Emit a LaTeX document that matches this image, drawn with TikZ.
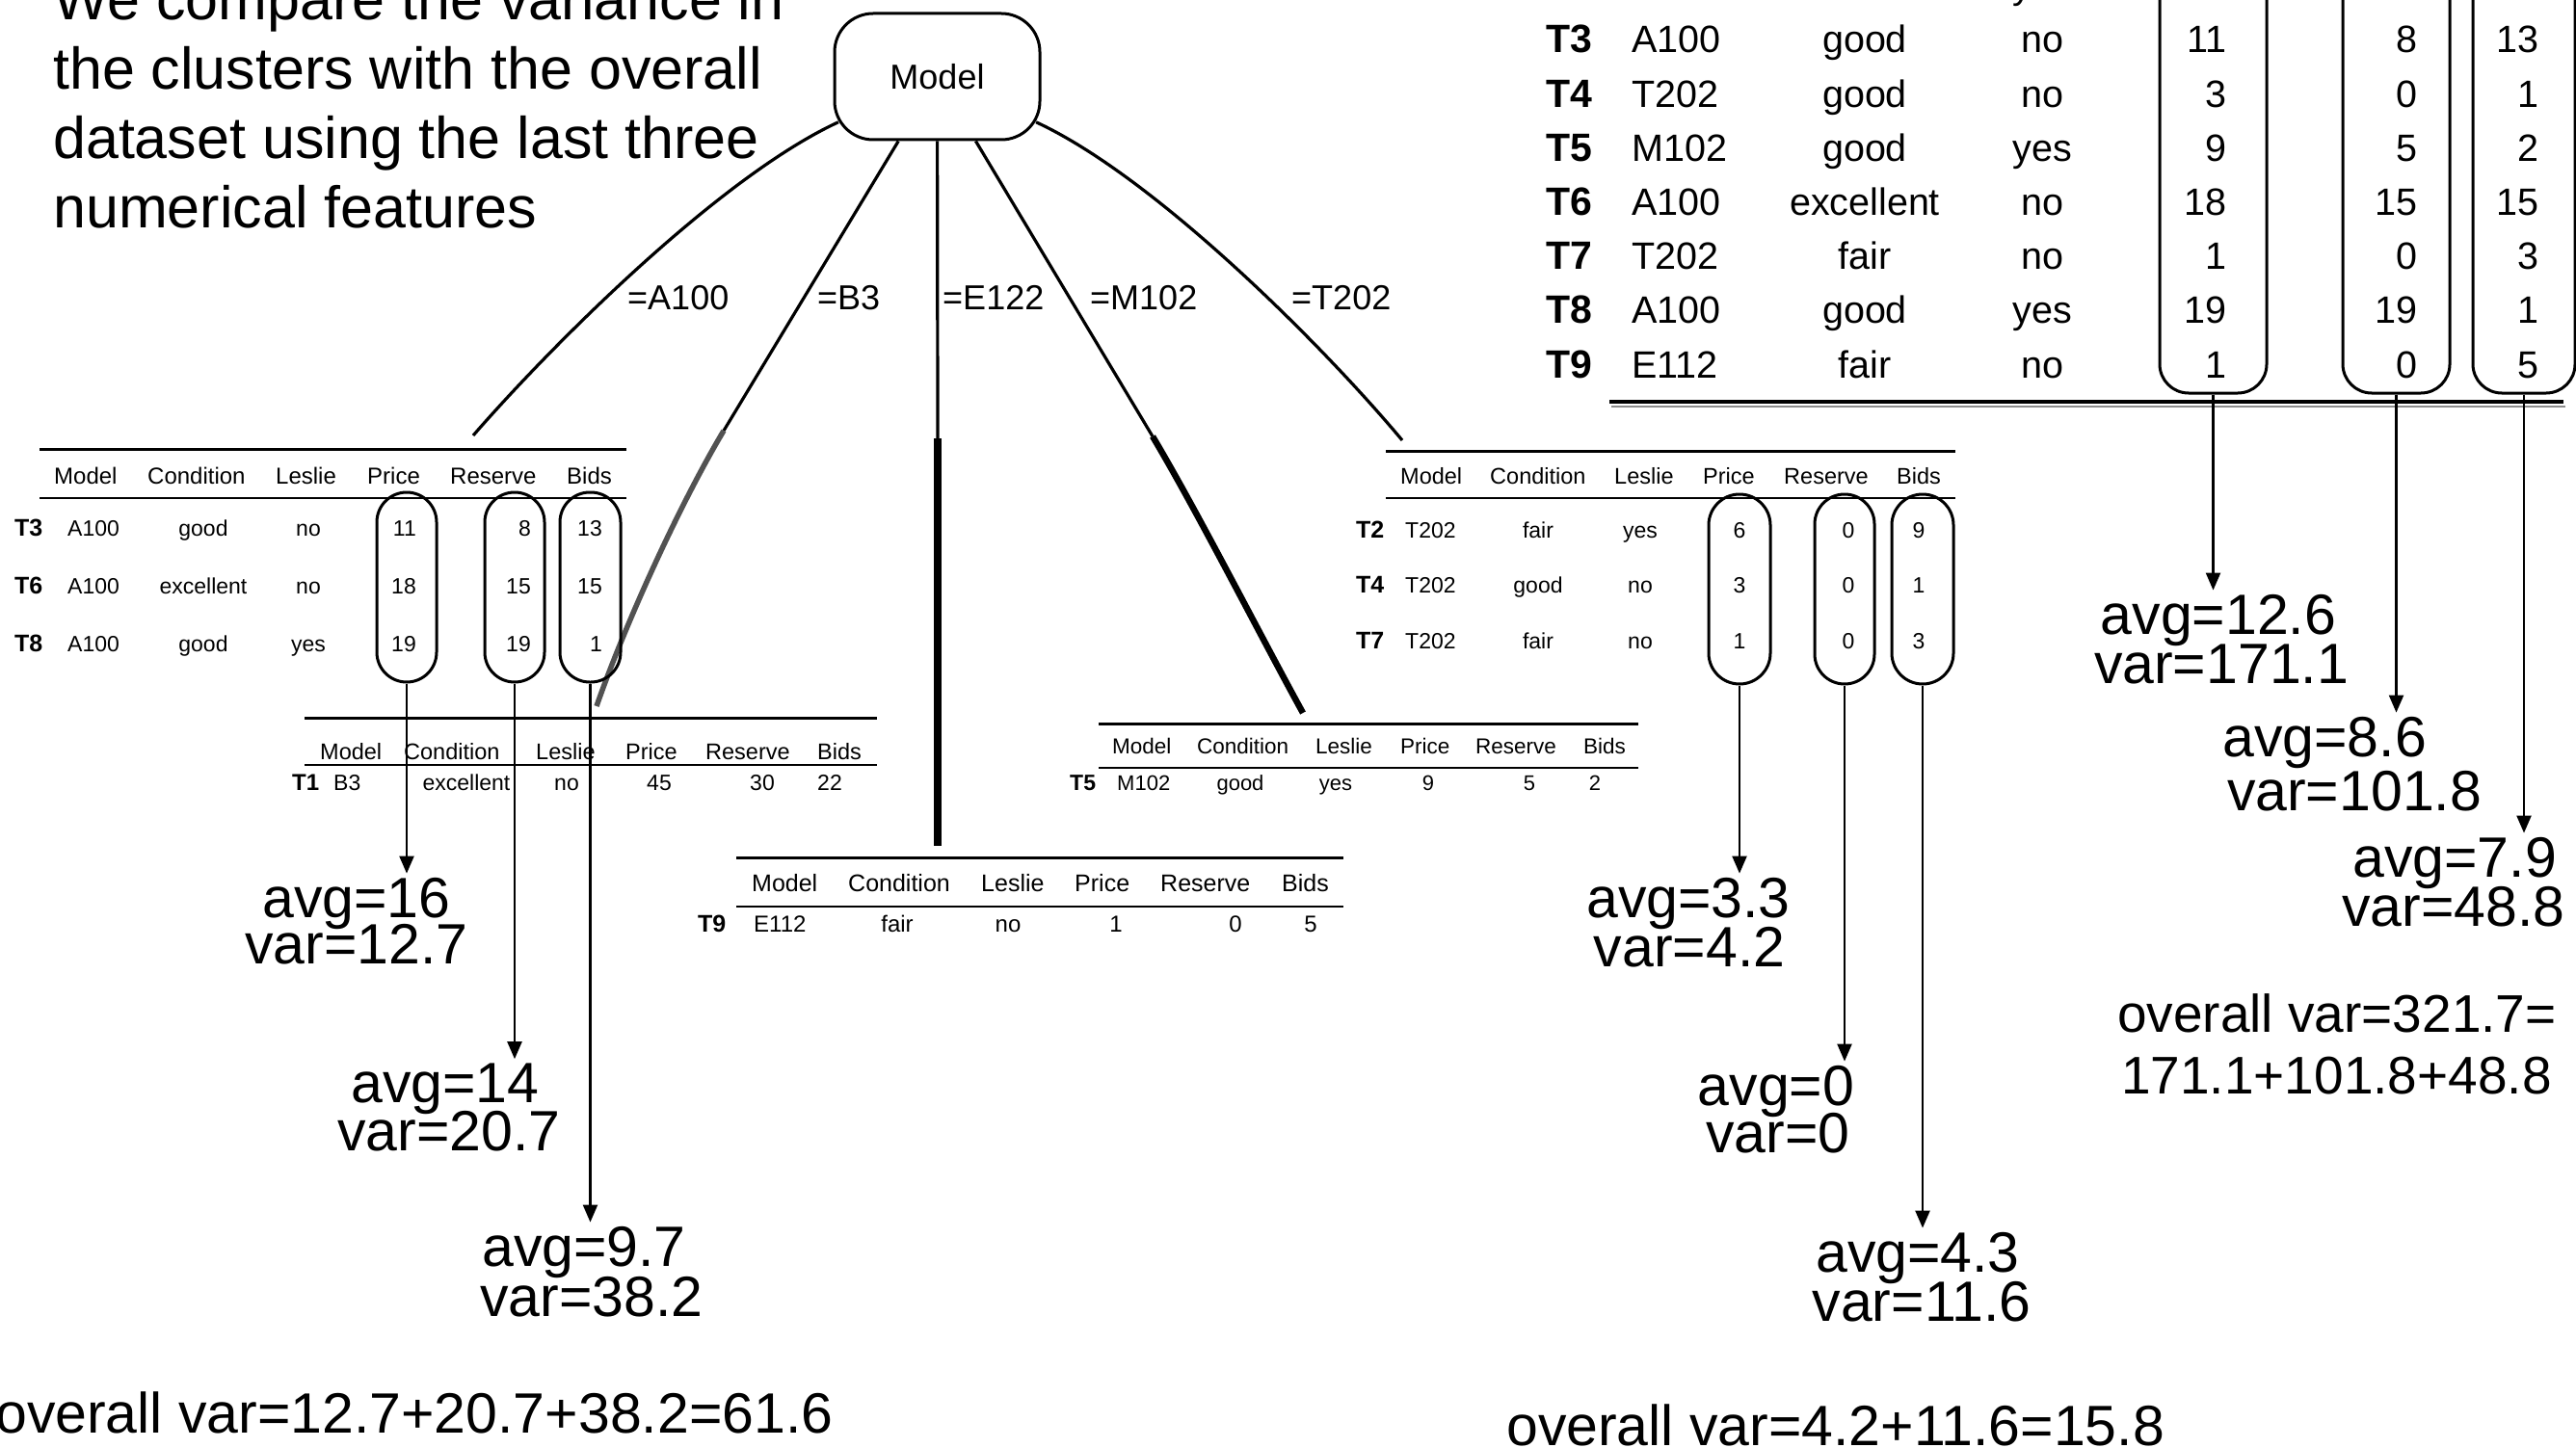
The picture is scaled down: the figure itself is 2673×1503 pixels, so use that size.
\documentclass[tikz,border=0pt]{standalone}
\usepackage{fontspec}
\setmainfont{Liberation Sans}
\usetikzlibrary{arrows.meta,calc}
\begin{document}
\begin{tikzpicture}[x=1pt,y=-1pt,
  txt/.style={inner sep=0pt, font=\fontsize{#1}{#1}\selectfont},
  txtb/.style={inner sep=0pt, font=\fontsize{#1}{#1}\selectfont\bfseries},
  biglab/.style={inner xsep=0pt, inner ysep=4pt, font=\fontsize{59}{59}\selectfont, anchor=base},
  toprule/.style={line width=3pt},
  midrule/.style={line width=2.2pt},
  stad/.style={draw, line width=3pt, inner sep=0pt},
  arr/.style={line width=2.2pt, -{Triangle[length=18pt,width=15pt]}},
  edge/.style={line width=3.2pt},
  thickblack/.style={line width=7.5pt},
  thickblackb/.style={line width=6.5pt},
  thickgrey/.style={line width=5.5pt, color=black!68},
  elab/.style={inner sep=0pt, font=\fontsize{36}{36}\selectfont, anchor=base west}
]
\fill[white] (0,0) rectangle (2673,1503);
\useasboundingbox (0,0) rectangle (2673,1503);
\clip (0,0) rectangle (2673,1503);

% ---------- intro text
\foreach \t/\y [count=\i] in {We compare the variance in/21, the clusters with the overall/93, dataset using the last three/165, numerical features/237}
  \node[txt=61, anchor=base west] (intro\i) at (55,\y) {\t};

% ---------- root node
\node[draw, line width=3pt, rounded corners=40pt, minimum width=213, minimum height=131,
      inner sep=0pt, font=\fontsize{36}{36}\selectfont] (model) at (972.5,79.5) {Model};

% ---------- edges
\coordinate (eA) at (491,452);
\coordinate (eB1) at (751,447);
\coordinate (eB2) at (619,733);
\coordinate (eE1) at (973,455);
\coordinate (eE2) at (973,878);
\coordinate (eM1) at (1196,453);
\coordinate (eM2) at (1352,740);
\coordinate (eT) at (1455,457);

\draw[edge, shorten <=-6pt] (model) .. controls (746,184) and (571,360) .. (eA);
\draw[edge] (model) -- (eB1);
\draw[thickgrey] (eB1) .. controls (705,524) and (649,647) .. (eB2);
\draw[edge] (model) -- (eE1);
\draw[thickblack] (eE1) -- (eE2);
\draw[edge] (model) -- (eM1);
\draw[thickblackb] (eM1) .. controls (1242,530) and (1309,662) .. (eM2);
\draw[edge, shorten <=-6pt] (model) .. controls (1199,184) and (1374,360) .. (eT);

\node[elab] (lbA) at (651,322) {=A100};
\node[elab] (lbB) at (848,322) {=B3};
\node[elab] (lbE) at (978,322) {=E122};
\node[elab] (lbM) at (1131,322) {=M102};
\node[elab] (lbT) at (1340,322) {=T202};

% ---------- A100 table
\draw[toprule] (41,466) -- (650,466);
\draw[midrule] (41,517) -- (650,517);
\foreach \t/\x [count=\i] in {Model/56, Condition/153, Leslie/286, Price/381, Reserve/467, Bids/588}
  \node[txt=24, anchor=base west] (ah\i) at (\x,502) {\t};
\foreach \r/\m/\c/\l/\p/\s/\b/\y [count=\i] in {T3/A100/good/no/11/8/13/556, T6/A100/excellent/no/18/15/15/616, T8/A100/good/yes/19/19/1/676}{
  \node[txtb=25, anchor=base west] (ar\i) at (15,\y) {\r};
  \node[txt=23, anchor=base west] (am\i) at (70,\y) {\m};
  \node[txt=23, anchor=base] (ac\i) at (211,\y) {\c};
  \node[txt=23, anchor=base] (al\i) at (320,\y) {\l};
  \node[txt=23, anchor=base east] (ap\i) at (432,\y) {\p};
  \node[txt=23, anchor=base east] (as\i) at (551,\y) {\s};
  \node[txt=23, anchor=base east] (ab\i) at (625,\y) {\b};
}
\node[stad, minimum width=62, minimum height=197, rounded corners=31pt] (sA1) at (422,609.5) {};
\node[stad, minimum width=62, minimum height=197, rounded corners=31pt] (sA2) at (534,609.5) {};
\node[stad, minimum width=63, minimum height=197, rounded corners=31pt] (sA3) at (612.5,609.5) {};

% ---------- B3 table
\draw[toprule] (316,745) -- (910,745);
\draw[midrule] (316,794) -- (910,794);
\foreach \t/\x [count=\i] in {Model/332, Condition/419, Leslie/556, Price/649, Reserve/732, Bids/848}
  \node[txt=23.5, anchor=base west] (bh\i) at (\x,788) {\t};
\node[txtb=24, anchor=base west] (br1) at (303,820) {T1};
\node[txt=23, anchor=base west] (bm1) at (346,820) {B3};
\node[txt=23, anchor=base] (bc1) at (484,820) {excellent};
\node[txt=23, anchor=base] (bl1) at (588,820) {no};
\node[txt=23, anchor=base] (bp1) at (684,820) {45};
\node[txt=23, anchor=base] (bs1) at (791,820) {30};
\node[txt=23, anchor=base] (bb1) at (861,820) {22};

% ---------- E122 table
\draw[toprule] (764,890) -- (1394,890);
\draw[midrule] (764,941) -- (1394,941);
\foreach \t/\x [count=\i] in {Model/780, Condition/880, Leslie/1018, Price/1115, Reserve/1204, Bids/1330}
  \node[txt=25, anchor=base west] (eh\i) at (\x,925) {\t};
\node[txtb=25, anchor=base west] (er1) at (724,967) {T9};
\node[txt=24, anchor=base west] (em1) at (782,967) {E112};
\node[txt=24, anchor=base] (ec1) at (931,967) {fair};
\node[txt=24, anchor=base] (el1) at (1046,967) {no};
\node[txt=24, anchor=base] (ep1) at (1158,967) {1};
\node[txt=24, anchor=base] (es1) at (1282,967) {0};
\node[txt=24, anchor=base] (eb1) at (1360,967) {5};

% ---------- M102 table
\draw[toprule] (1140,751) -- (1700,751);
\draw[midrule] (1140,797) -- (1700,797);
\foreach \t/\x [count=\i] in {Model/1154, Condition/1242, Leslie/1365, Price/1453, Reserve/1531, Bids/1643}
  \node[txt=22.5, anchor=base west] (mh\i) at (\x,782) {\t};
\node[txtb=23, anchor=base west] (mr1) at (1110,820) {T5};
\node[txt=22, anchor=base west] (mm1) at (1159,820) {M102};
\node[txt=22, anchor=base] (mc1) at (1287,820) {good};
\node[txt=22, anchor=base] (ml1) at (1386,820) {yes};
\node[txt=22, anchor=base] (mp1) at (1482,820) {9};
\node[txt=22, anchor=base] (ms1) at (1587,820) {5};
\node[txt=22, anchor=base] (mb1) at (1655,820) {2};

% ---------- T202 table
\draw[toprule] (1438,468) -- (2029,468);
\draw[midrule] (1438,517) -- (2029,517);
\foreach \t/\x [count=\i] in {Model/1453, Condition/1546, Leslie/1675, Price/1767, Reserve/1851, Bids/1968}
  \node[txt=23.5, anchor=base west] (dh\i) at (\x,502) {\t};
\foreach \r/\m/\c/\l/\p/\s/\b/\y [count=\i] in {T2/T202/fair/yes/6/0/9/558, T4/T202/good/no/3/0/1/615, T7/T202/fair/no/1/0/3/673}{
  \node[txtb=25, anchor=base west] (dr\i) at (1407,\y) {\r};
  \node[txt=23, anchor=base west] (dm\i) at (1458,\y) {\m};
  \node[txt=23, anchor=base] (dc\i) at (1596,\y) {\c};
  \node[txt=23, anchor=base] (dl\i) at (1702,\y) {\l};
  \node[txt=23, anchor=base] (dp\i) at (1805,\y) {\p};
  \node[txt=23, anchor=base] (ds\i) at (1918,\y) {\s};
  \node[txt=23, anchor=base] (db\i) at (1991,\y) {\b};
}
\node[stad, minimum width=64, minimum height=197, rounded corners=32pt] (sD1) at (1805,611.5) {};
\node[stad, minimum width=62, minimum height=197, rounded corners=31pt] (sD2) at (1914,611.5) {};
\node[stad, minimum width=64, minimum height=197, rounded corners=32pt] (sD3) at (1995,611.5) {};

% ---------- full table (top right)
\foreach \r/\m/\c/\l/\p/\s/\b/\y [count=\i] in {T2/T202/fair/yes/6/0/9/-1, T3/A100/good/no/11/8/13/55, T4/T202/good/no/3/0/1/112, T5/M102/good/yes/9/5/2/168, T6/A100/excellent/no/18/15/15/224, T7/T202/fair/no/1/0/3/280, T8/A100/good/yes/19/19/1/336, T9/E112/fair/no/1/0/5/392}{
  \node[txtb=41, anchor=base west] (gr\i) at (1604,\y) {\r};
  \node[txt=39.5, anchor=base west] (gm\i) at (1693,\y) {\m};
  \node[txt=39.5, anchor=base] (gc\i) at (1935,\y) {\c};
  \node[txt=39.5, anchor=base] (gl\i) at (2119,\y) {\l};
  \node[txt=39.5, anchor=base east] (gp\i) at (2311,\y) {\p};
  \node[txt=39.5, anchor=base east] (gs\i) at (2509,\y) {\s};
  \node[txt=39.5, anchor=base east] (gb\i) at (2635,\y) {\b};
}
\node[stad, minimum width=111, minimum height=488, rounded corners=30pt] (sG1) at (2296.5,164) {};
\node[stad, minimum width=111, minimum height=488, rounded corners=30pt] (sG2) at (2486.5,164) {};
\node[stad, minimum width=106, minimum height=488, rounded corners=30pt] (sG3) at (2619,164) {};
\draw[line width=2.5pt, black!45] (1672,422) -- (2662,422);
\draw[line width=3.5pt] (1670,417) -- (2660,417);

% ---------- result labels
\node[biglab] (aA1) at (370,952) {avg=16};
\node[biglab] (vA1) at (370,1000) {var=12.7};
\node[biglab] (aA2) at (462,1144) {avg=14};
\node[biglab] (vA2) at (466,1194) {var=20.7};
\node[biglab] (aA3) at (606,1314) {avg=9.7};
\node[biglab] (vA3) at (614,1366) {var=38.2};

\node[biglab] (aD1) at (1752,952) {avg=3.3};
\node[biglab] (vD1) at (1753,1003) {var=4.2};
\node[biglab] (aD2) at (1843,1147) {avg=0};
\node[biglab] (vD2) at (1845,1196) {var=0};
\node[biglab] (aD3) at (1990,1320) {avg=4.3};
\node[biglab] (vD3) at (1994,1371) {var=11.6};

\node[biglab] (aG1) at (2302,658) {avg=12.6};
\node[biglab] (vG1) at (2305,709) {var=171.1};
\node[biglab] (aG2) at (2412,785) {avg=8.6};
\node[biglab] (vG2) at (2443,841) {var=101.8};
\node[biglab] (aG3) at (2547,910) {avg=7.9};
\node[biglab] (vG3) at (2546,961) {var=48.8};

\node[txt=55, anchor=base west] (ovG1) at (2197,1071) {overall var=321.7=};
\node[txt=55, anchor=base west] (ovG2) at (2201,1135) {171.1+101.8+48.8};
\node[txt=59, anchor=base west] (ovA) at (-5,1487) {overall var=12.7+20.7+38.2=61.6};
\node[txt=59, anchor=base west] (ovD) at (1563,1500) {overall var=4.2+11.6=15.8};

% ---------- arrows
\foreach \s/\l in {sA1/aA1, sA2/aA2, sA3/aA3, sD1/aD1, sD2/aD2, sD3/aD3, sG1/aG1, sG2/aG2, sG3/aG3}
  \draw[arr] (\s.south) -- (\s.south |- \l.north);
\end{tikzpicture}
\end{document}
